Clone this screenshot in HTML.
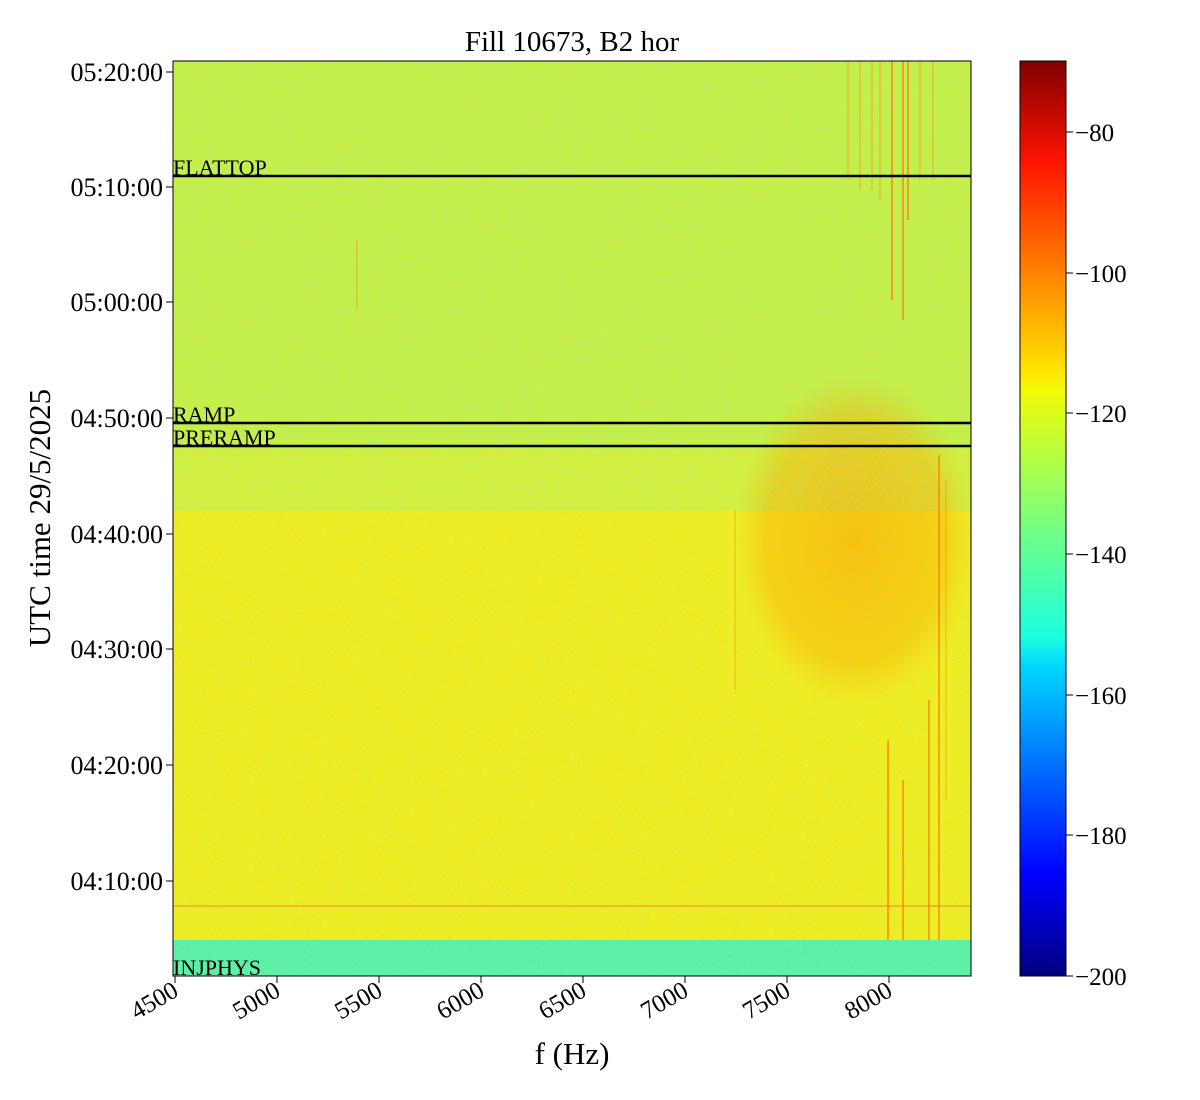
<!DOCTYPE html>
<html><head><meta charset="utf-8"><style>
html,body{margin:0;padding:0;background:#fff;}
svg{display:block;font-family:"Liberation Serif",serif;}
</style></head><body>
<svg width="1200" height="1100" viewBox="0 0 1200 1100" xmlns="http://www.w3.org/2000/svg">
<defs>
 <linearGradient id="jet" x1="0" y1="1" x2="0" y2="0">
  <stop offset="0" stop-color="#00007f"/>
  <stop offset="0.11" stop-color="#0000ff"/>
  <stop offset="0.34" stop-color="#00d8ff"/>
  <stop offset="0.37" stop-color="#1affe0"/>
  <stop offset="0.5" stop-color="#7dff7a"/>
  <stop offset="0.64" stop-color="#f1fc06"/>
  <stop offset="0.66" stop-color="#ffe600"/>
  <stop offset="0.89" stop-color="#ff1300"/>
  <stop offset="1" stop-color="#800000"/>
 </linearGradient>
 <radialGradient id="blob" cx="0.5" cy="0.5" r="0.5">
  <stop offset="0" stop-color="#ff9a00" stop-opacity="0.55"/>
  <stop offset="0.75" stop-color="#ffa800" stop-opacity="0.4"/>
  <stop offset="1" stop-color="#ffb000" stop-opacity="0"/>
 </radialGradient>
 <filter id="noiseG" x="0" y="0" width="100%" height="100%">
  <feTurbulence type="fractalNoise" baseFrequency="0.7" numOctaves="1" seed="3"/>
  <feColorMatrix type="matrix" values="0 0 0 0 0.3  0 0 0 0 0.95  0 0 0 0 0.7  3 0 0 0 -1.6"/>
 </filter>
 <filter id="noiseO" x="0" y="0" width="100%" height="100%">
  <feTurbulence type="fractalNoise" baseFrequency="0.6" numOctaves="1" seed="9"/>
  <feColorMatrix type="matrix" values="0 0 0 0 1  0 0 0 0 0.6  0 0 0 0 0  0 3 0 0 -1.6"/>
 </filter>
 <clipPath id="pc"><rect x="173" y="61" width="798" height="915"/></clipPath>
</defs>
<g clip-path="url(#pc)">
 <rect x="173" y="61" width="798" height="450" fill="#c6ee46"/>
 <rect x="173" y="511" width="798" height="430" fill="#eeee24"/>
 <rect x="173" y="450" width="798" height="61" fill="#d4ee3c"/>
 <ellipse cx="855" cy="540" rx="120" ry="165" fill="url(#blob)"/>
 <rect x="173" y="61" width="798" height="450" filter="url(#noiseG)" opacity="0.55"/>
 <rect x="173" y="511" width="798" height="430" filter="url(#noiseO)" opacity="0.5"/>
 <rect x="173" y="511" width="798" height="430" filter="url(#noiseG)" opacity="0.25"/>
 <rect x="173" y="940" width="798" height="36" fill="#5cf0a4"/>
 <rect x="173" y="940" width="798" height="36" filter="url(#noiseG)" opacity="0.4"/>
 <line x1="173" y1="906" x2="971" y2="906" stroke="#f0a020" stroke-width="1.2"/>
 <g stroke="#ff6a00" stroke-width="2" opacity="0.55">
  <line x1="903" y1="61" x2="903" y2="320"/>
  <line x1="908" y1="61" x2="908" y2="220"/>
  <line x1="892" y1="61" x2="892" y2="300"/>
  <line x1="939" y1="455" x2="939" y2="940"/>
  <line x1="888" y1="740" x2="888" y2="940"/>
  <line x1="903" y1="780" x2="903" y2="940"/>
  <line x1="929" y1="700" x2="929" y2="940"/>
 </g>
 <g stroke="#ff8a00" stroke-width="1.5" opacity="0.4">
  <line x1="860" y1="61" x2="860" y2="190"/>
  <line x1="872" y1="61" x2="872" y2="190"/>
  <line x1="880" y1="61" x2="880" y2="200"/>
  <line x1="920" y1="61" x2="920" y2="180"/>
  <line x1="933" y1="61" x2="933" y2="180"/>
  <line x1="848" y1="61" x2="848" y2="180"/>
  <line x1="946" y1="480" x2="946" y2="800"/>
  <line x1="357" y1="240" x2="357" y2="310"/>
  <line x1="735" y1="510" x2="735" y2="690"/>
 </g>
 <g stroke="#000" stroke-width="2.5">
  <line x1="173" y1="176" x2="971" y2="176"/>
  <line x1="173" y1="423" x2="971" y2="423"/>
  <line x1="173" y1="446" x2="971" y2="446"/>
 </g>
 <g font-size="22" fill="#000">
  <text x="173" y="175">FLATTOP</text>
  <text x="173" y="422">RAMP</text>
  <text x="173" y="445">PRERAMP</text>
  <text x="173" y="975">INJPHYS</text>
 </g>
</g>
<rect x="173" y="61" width="798" height="915" fill="none" stroke="#000" stroke-width="1"/>
<text x="572" y="51" font-size="29" text-anchor="middle">Fill 10673, B2 hor</text>
<g font-size="26" text-anchor="end">
 <g stroke="#000" stroke-width="1">
  <line x1="166" y1="72" x2="173" y2="72"/><line x1="166" y1="187" x2="173" y2="187"/>
  <line x1="166" y1="302" x2="173" y2="302"/><line x1="166" y1="418" x2="173" y2="418"/>
  <line x1="166" y1="534" x2="173" y2="534"/><line x1="166" y1="649" x2="173" y2="649"/>
  <line x1="166" y1="765" x2="173" y2="765"/><line x1="166" y1="881" x2="173" y2="881"/>
 </g>
 <text x="163" y="81">05:20:00</text><text x="163" y="196">05:10:00</text>
 <text x="163" y="311">05:00:00</text><text x="163" y="427">04:50:00</text>
 <text x="163" y="543">04:40:00</text><text x="163" y="658">04:30:00</text>
 <text x="163" y="774">04:20:00</text><text x="163" y="890">04:10:00</text>
</g>
<text transform="translate(50,518) rotate(-90)" font-size="31" text-anchor="middle">UTC time 29/5/2025</text>
<g stroke="#000" stroke-width="1">
 <line x1="175" y1="976" x2="175" y2="983"/><line x1="277" y1="976" x2="277" y2="983"/>
 <line x1="379" y1="976" x2="379" y2="983"/><line x1="481" y1="976" x2="481" y2="983"/>
 <line x1="583" y1="976" x2="583" y2="983"/><line x1="685" y1="976" x2="685" y2="983"/>
 <line x1="787" y1="976" x2="787" y2="983"/><line x1="889" y1="976" x2="889" y2="983"/>
</g>
<g font-size="25" text-anchor="end">
 <text transform="translate(180,995) rotate(-30)">4500</text>
 <text transform="translate(282,995) rotate(-30)">5000</text>
 <text transform="translate(384,995) rotate(-30)">5500</text>
 <text transform="translate(486,995) rotate(-30)">6000</text>
 <text transform="translate(588,995) rotate(-30)">6500</text>
 <text transform="translate(690,995) rotate(-30)">7000</text>
 <text transform="translate(792,995) rotate(-30)">7500</text>
 <text transform="translate(894,995) rotate(-30)">8000</text>
</g>
<text x="572" y="1064" font-size="31" text-anchor="middle">f (Hz)</text>
<rect x="1020" y="61" width="46" height="915" fill="url(#jet)" stroke="#000" stroke-width="1"/>
<g stroke="#000" stroke-width="1">
 <line x1="1066" y1="132" x2="1073" y2="132"/><line x1="1066" y1="273" x2="1073" y2="273"/>
 <line x1="1066" y1="413" x2="1073" y2="413"/><line x1="1066" y1="554" x2="1073" y2="554"/>
 <line x1="1066" y1="695" x2="1073" y2="695"/><line x1="1066" y1="835" x2="1073" y2="835"/>
 <line x1="1066" y1="976" x2="1073" y2="976"/>
</g>
<g font-size="25">
 <text x="1075" y="141">−80</text><text x="1075" y="282">−100</text>
 <text x="1075" y="422">−120</text><text x="1075" y="563">−140</text>
 <text x="1075" y="704">−160</text><text x="1075" y="844">−180</text>
 <text x="1075" y="985">−200</text>
</g>
</svg>
</body></html>
